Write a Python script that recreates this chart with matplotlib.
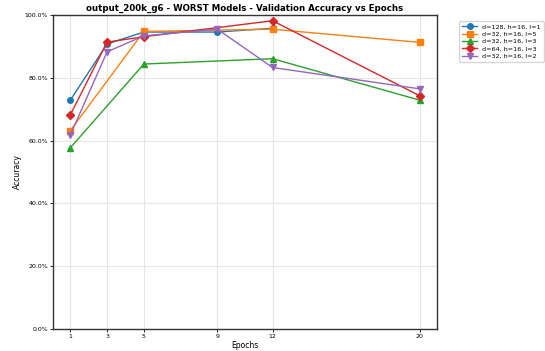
import matplotlib
matplotlib.use("Agg")
import matplotlib.pyplot as plt
from matplotlib.ticker import PercentFormatter

# validation accuracy (%) per model
labels = ["d=128, h=16, l=1", "d=32, h=16, l=5", "d=32, h=16, l=3",
          "d=64, h=16, l=3", "d=32, h=16, l=2"]
epochs = [
    [1, 3, 5, 9, 12],
    [1, 5, 12, 20],
    [1, 5, 12, 20],
    [1, 3, 5, 12, 20],
    [1, 3, 5, 9, 12, 20],
]
acc = [
    [72.9, 90.8, 94.6, 94.6, 95.8],
    [63.2, 94.8, 95.5, 91.3],
    [57.7, 84.4, 86.1, 72.9],
    [68.2, 91.4, 93.1, 98.2, 74.3],
    [61.8, 88.3, 93.4, 95.5, 83.3, 76.5],
]
tick_epochs = [1, 3, 5, 9, 12, 20]

markers = ["o", "s", "^", "D", "v"]
colors = ["#1f77b4", "#ff7f0e", "#2ca02c", "#d62728", "#9467bd"]

fig = plt.figure(figsize=(5.45, 3.51), dpi=100)
ax = fig.add_axes([0.097, 0.063, 0.705, 0.894])

for x, y, lab, m, c in zip(epochs, acc, labels, markers, colors):
    ax.plot(x, y, marker=m, color=c, label=lab, linewidth=1.0, markersize=4)

ax.set_ylim(0, 100)
ax.set_yticks([0, 20, 40, 60, 80, 100])
ax.yaxis.set_major_formatter(PercentFormatter(100, decimals=1))
ax.set_xticks(tick_epochs)
ax.tick_params(labelsize=4.5, length=2, width=0.6, pad=1.5)
ax.grid(True, color="#e6e6e6", linewidth=0.8)
ax.set_axisbelow(True)
for s in ax.spines.values():
    s.set_color("#333333")
    s.set_linewidth(1.0)

ax.set_xlabel("Epochs", fontsize=5.5, labelpad=1.5)
ax.set_ylabel("Accuracy", fontsize=5.5, labelpad=2)
ax.set_title("output_200k_g6 - WORST Models - Validation Accuracy vs Epochs",
             fontsize=6.2, fontweight="bold", pad=3)
ax.legend(loc="upper left", bbox_to_anchor=(1.05, 0.99), fontsize=4.6,
          handlelength=2.4, borderpad=0.4, labelspacing=0.3)

fig.savefig("out.png", dpi=100)
